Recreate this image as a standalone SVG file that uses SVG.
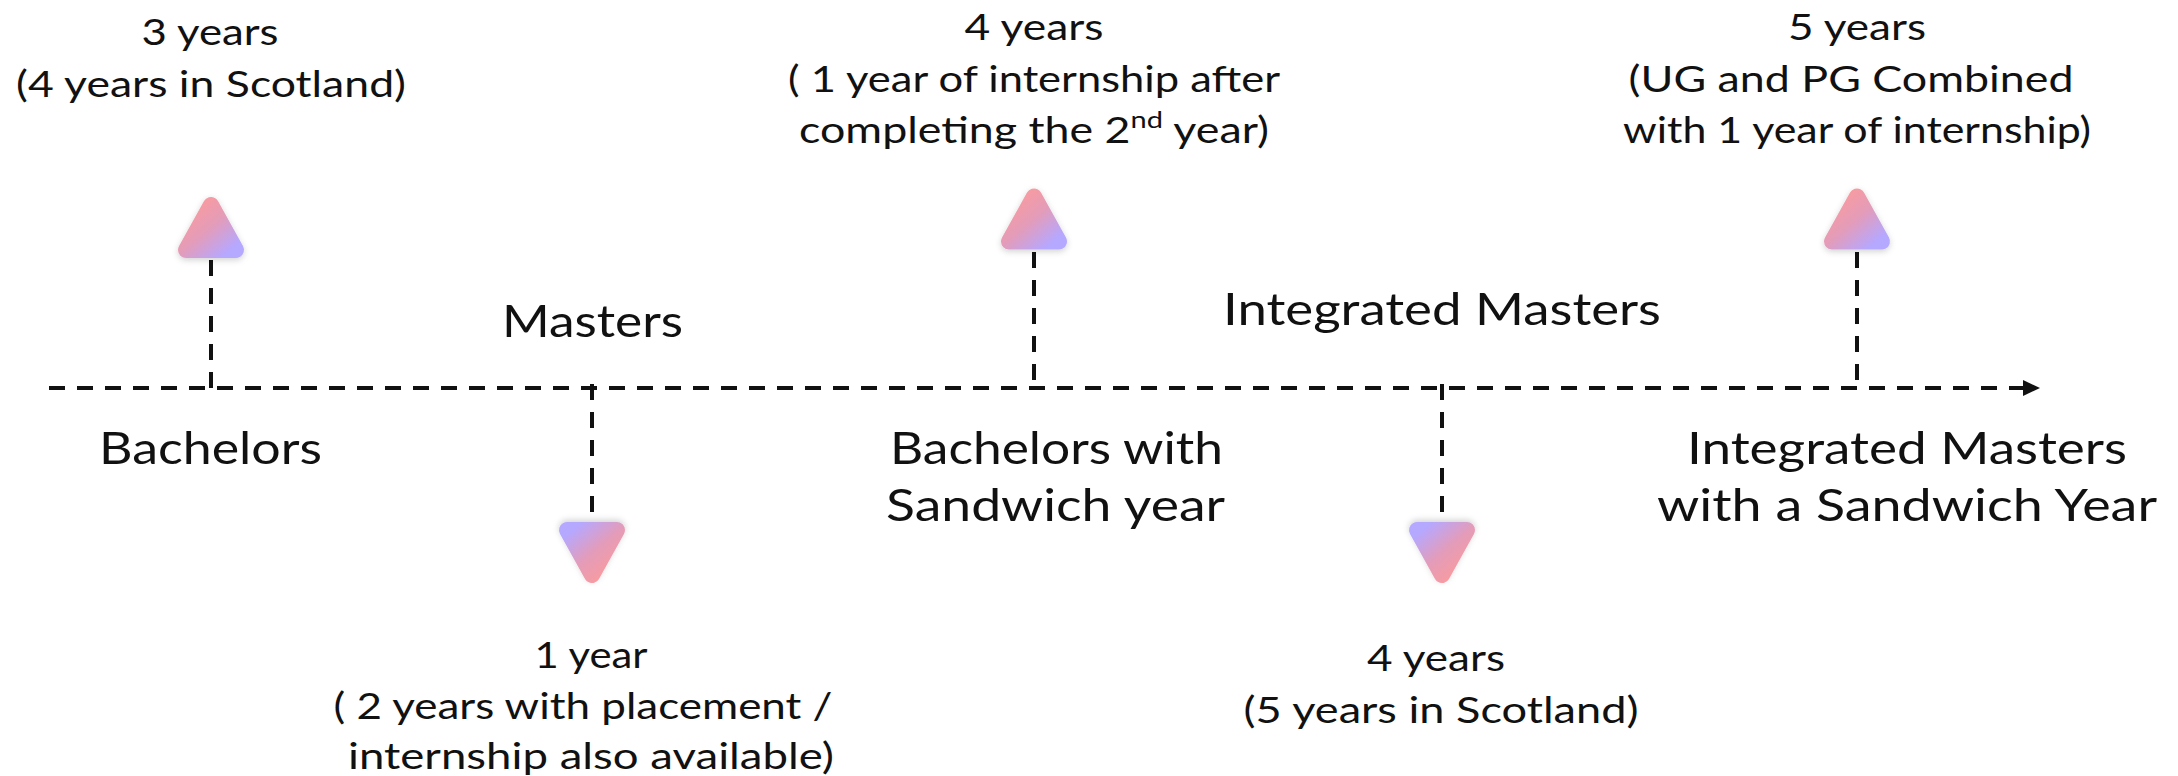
<svg xmlns="http://www.w3.org/2000/svg" width="2178" height="776" viewBox="0 0 2178 776">
  <style>
    .sm { font-family: Lato, "Liberation Sans", sans-serif; font-size: 37px; font-weight: 400; fill: #111; text-anchor: middle; }
    .lg { font-family: Lato, "Liberation Sans", sans-serif; font-size: 45px; font-weight: 400; fill: #111; text-anchor: middle; }
    .dash { stroke: #111; stroke-width: 4; fill: none; stroke-dasharray: 16 12; }
    .tri { fill: url(#grad); stroke: url(#grad); stroke-width: 16; stroke-linejoin: round; filter: url(#shadow); }
  </style>
  <defs>
    <linearGradient id="grad" x1="0.15" y1="0.1" x2="0.95" y2="0.95">
      <stop offset="0" stop-color="#f79ba2"/>
      <stop offset="0.45" stop-color="#e39cb9"/>
      <stop offset="1" stop-color="#b5a8ff"/>
    </linearGradient>
    <filter id="shadow" x="-40%" y="-40%" width="180%" height="180%">
      <feDropShadow dx="0" dy="2" stdDeviation="3" flood-color="#000" flood-opacity="0.18"/>
    </filter>
    <polygon id="triShape" points="0,-22.5 25,22.5 -25,22.5"/>
    <marker id="arrow" markerUnits="userSpaceOnUse" markerWidth="20" markerHeight="20" refX="2" refY="9" orient="auto">
      <polygon points="0,1 17,9 0,17" fill="#111"/>
    </marker>
  </defs>

  <g id="connectors">
    <line class="dash" x1="49" y1="388" x2="2025" y2="388" marker-end="url(#arrow)"/>
    <line class="dash" x1="211" y1="260" x2="211" y2="388"/>
    <line class="dash" x1="592" y1="384" x2="592" y2="512"/>
    <line class="dash" x1="1034" y1="252" x2="1034" y2="388"/>
    <line class="dash" x1="1442" y1="384" x2="1442" y2="519"/>
    <line class="dash" x1="1857" y1="252" x2="1857" y2="388"/>
  </g>

  <g id="bachelors">
    <use href="#triShape" class="tri" transform="translate(211,227.5)"/>
    <text class="sm" x="210" y="45" textLength="137" lengthAdjust="spacingAndGlyphs">3 years</text>
    <text class="sm" x="211" y="97" textLength="390" lengthAdjust="spacingAndGlyphs">(4 years in Scotland)</text>
    <text class="lg" x="210.5" y="464" textLength="223" lengthAdjust="spacingAndGlyphs">Bachelors</text>
  </g>

  <g id="masters">
    <use href="#triShape" class="tri" transform="translate(592,552.5) rotate(180)"/>
    <text class="lg" x="592.5" y="337" textLength="181" lengthAdjust="spacingAndGlyphs">Masters</text>
    <text class="sm" x="591" y="668" textLength="113" lengthAdjust="spacingAndGlyphs">1 year</text>
    <text class="sm" x="583" y="719" textLength="499" lengthAdjust="spacingAndGlyphs">( 2 years with placement /</text>
    <text class="sm" x="591" y="769" textLength="486" lengthAdjust="spacingAndGlyphs">internship also available)</text>
  </g>

  <g id="bachelors-sandwich">
    <use href="#triShape" class="tri" transform="translate(1034,219)"/>
    <text class="sm" x="1034" y="40" textLength="139" lengthAdjust="spacingAndGlyphs">4 years</text>
    <text class="sm" x="1034" y="92" textLength="492" lengthAdjust="spacingAndGlyphs">( 1 year of internship after</text>
    <text class="sm" x="1034" y="143" textLength="470" lengthAdjust="spacingAndGlyphs">completing the 2<tspan font-size="24" dy="-15">nd</tspan><tspan dy="15"> year)</tspan></text>
    <text class="lg" x="1056.5" y="464" textLength="333" lengthAdjust="spacingAndGlyphs">Bachelors with</text>
    <text class="lg" x="1055.5" y="521" textLength="339" lengthAdjust="spacingAndGlyphs">Sandwich year</text>
  </g>

  <g id="integrated-masters">
    <use href="#triShape" class="tri" transform="translate(1442,552.5) rotate(180)"/>
    <text class="lg" x="1442" y="325" textLength="438" lengthAdjust="spacingAndGlyphs">Integrated Masters</text>
    <text class="sm" x="1436" y="671" textLength="138" lengthAdjust="spacingAndGlyphs">4 years</text>
    <text class="sm" x="1441" y="723" textLength="395" lengthAdjust="spacingAndGlyphs">(5 years in Scotland)</text>
  </g>

  <g id="integrated-masters-sandwich">
    <use href="#triShape" class="tri" transform="translate(1857,219)"/>
    <text class="sm" x="1857" y="40" textLength="138" lengthAdjust="spacingAndGlyphs">5 years</text>
    <text class="sm" x="1851" y="92" textLength="445" lengthAdjust="spacingAndGlyphs">(UG and PG Combined</text>
    <text class="sm" x="1857" y="143" textLength="468" lengthAdjust="spacingAndGlyphs">with 1 year of internship)</text>
    <text class="lg" x="1907" y="464" textLength="440" lengthAdjust="spacingAndGlyphs">Integrated Masters</text>
    <text class="lg" x="1907" y="521" textLength="500" lengthAdjust="spacingAndGlyphs">with a Sandwich Year</text>
  </g>
</svg>
